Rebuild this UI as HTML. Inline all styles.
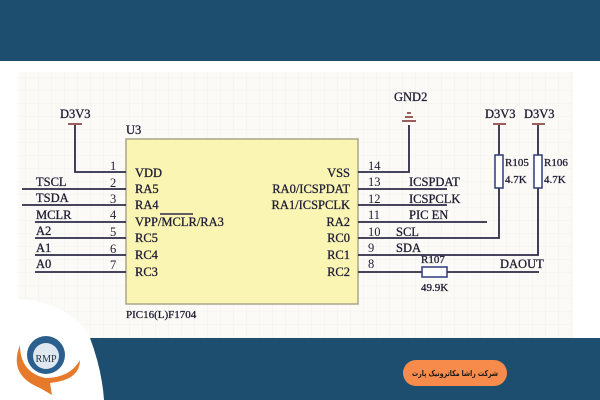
<!DOCTYPE html>
<html><head><meta charset="utf-8"><style>
html,body{margin:0;padding:0;width:600px;height:400px;overflow:hidden;background:#fff}
</style></head><body>
<svg width="600" height="400" viewBox="0 0 600 400" xmlns="http://www.w3.org/2000/svg" font-family="'Liberation Serif',serif">
<defs><pattern id="g" width="13" height="13" patternUnits="userSpaceOnUse"><path d="M13 0V13H0" fill="none" stroke="#ecebe6" stroke-width="0.6"/></pattern></defs>
<rect width="600" height="400" fill="#fff"/>
<rect x="18" y="72" width="555" height="266" fill="#fbfaf6"/>
<rect x="18" y="72" width="555" height="266" fill="url(#g)"/>
<rect x="0" y="0" width="600" height="61" fill="#1d4e6f"/>
<rect x="0" y="338" width="600" height="62" fill="#1d4e6f"/>
<path d="M0 298 Q70 298 90 338 Q102 370 104 400 L0 400 Z" fill="#fff"/>
<rect x="126" y="139" width="232" height="165" fill="#fbf5b4" stroke="#aaa68a" stroke-width="1.5"/>
<g stroke="#2e2b48" stroke-width="1.8" fill="none">
<path d="M75 125V172H126"/>
<path d="M22 189H126M22 205H126M35 222H126M35 238H126M35 255H126M35 272H126"/>
<path d="M358 172H409V125"/>
<path d="M358 189H447M358 205H447M358 222H487M358 238H499V188M358 255H538V188M358 272H422M447 272H539"/>
<path d="M499 125V155M538 125V155"/>
</g>
<g stroke="#7a2a2a" stroke-width="1.5"><path d="M68 124H82M402 121H416M405 117H413M407 113H411M493 124H506M532 124H545"/></g>
<g fill="#fff" stroke="#2e3a7a" stroke-width="1.5"><rect x="495" y="155" width="8" height="33"/><rect x="534" y="155" width="8" height="33"/><rect x="422" y="267" width="25" height="10"/></g>
<path d="M160 214H193" stroke="#2e2b48" stroke-width="1.5"/>
<g font-size="12.5" fill="#1f1d33" stroke="#1f1d33" stroke-width="0.3">
<text x="60" y="118">D3V3</text><text x="126" y="134">U3</text>
<text x="394" y="101">GND2</text><text x="485" y="118">D3V3</text><text x="524" y="118">D3V3</text>
<text x="135" y="177">VDD</text><text x="135" y="193">RA5</text><text x="135" y="209">RA4</text><text x="135" y="226">VPP/MCLR/RA3</text><text x="135" y="242">RC5</text><text x="135" y="259">RC4</text><text x="135" y="276">RC3</text>
<g stroke="none"><text x="110" y="170">1</text><text x="110" y="187">2</text><text x="110" y="203">3</text><text x="110" y="219">4</text><text x="110" y="236">5</text><text x="110" y="253">6</text><text x="110" y="269">7</text>
<text x="368" y="170">14</text><text x="368" y="186">13</text><text x="368" y="203">12</text><text x="368" y="219">11</text><text x="368" y="236">10</text><text x="368" y="252">9</text><text x="368" y="268">8</text></g>
<text x="36" y="186">TSCL</text><text x="36" y="202">TSDA</text><text x="36" y="219">MCLR</text><text x="36" y="235">A2</text><text x="36" y="252">A1</text><text x="36" y="268">A0</text>
<g text-anchor="end"><text x="350" y="177">VSS</text><text x="350" y="193">RA0/ICSPDAT</text><text x="350" y="209">RA1/ICSPCLK</text><text x="350" y="226">RA2</text><text x="350" y="242">RC0</text><text x="350" y="259">RC1</text><text x="350" y="276">RC2</text></g>
<text x="409" y="186">ICSPDAT</text><text x="409" y="203">ICSPCLK</text><text x="409" y="219">PIC EN</text><text x="396" y="236">SCL</text><text x="396" y="252">SDA</text><text x="500" y="268">DAOUT</text>
<text x="421" y="263" font-size="11">R107</text><text x="421" y="291" font-size="11">49.9K</text>
<text x="505" y="166" font-size="11">R105</text><text x="505" y="183" font-size="11">4.7K</text>
<text x="544" y="166" font-size="11">R106</text><text x="544" y="183" font-size="11">4.7K</text>
<text x="126" y="318" font-size="11">PIC16(L)F1704</text>
</g>
<path d="M20 345 Q8 375 40 388 L52 395 L50 383 Q80 380 80 360 Q70 378 45 378 Q20 372 20 345Z" fill="#e77a2a"/>
<circle cx="46" cy="355" r="19" fill="#2a5f8e"/>
<circle cx="46" cy="356" r="13" fill="#dfe8f0"/>
<text x="46" y="362" font-size="10" text-anchor="middle" fill="#234">RMP</text>
<rect x="403" y="360" width="104" height="26" rx="13" fill="#f68b4b"/>
<text x="455" y="376" font-size="8" font-weight="bold" text-anchor="middle" fill="#1a1a1a" font-family="'DejaVu Sans',sans-serif" textLength="86" lengthAdjust="spacingAndGlyphs">شرکت راشا مکاترونیک پارت</text>
</svg>
</body></html>
